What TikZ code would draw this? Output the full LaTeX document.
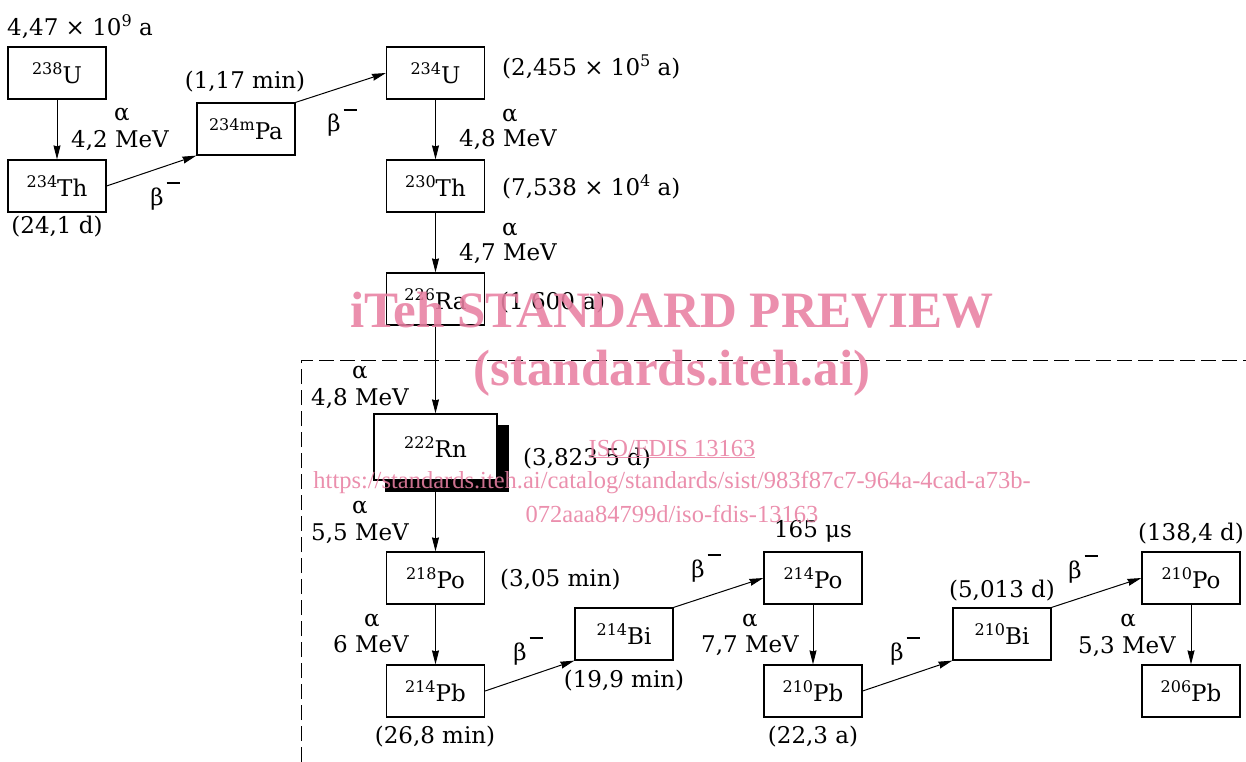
\documentclass[tikz,border=0pt]{standalone}
\usepackage{fontspec}
\setmainfont{DejaVu Serif}
\newfontfamily\wmfont{Liberation Serif}
\usetikzlibrary{arrows.meta}
\definecolor{wm}{RGB}{232,128,162}
\newcommand\sups[1]{\raisebox{9pt}{\fontsize{16}{16}\selectfont #1}}
\newcommand\nuc[2]{\sups{#1}#2}
\newcommand\betam{β\kern3pt\rule[21pt]{13pt}{1.8pt}}
\begin{document}
\begin{tikzpicture}[x=1pt,y=-1pt,
  every node/.style={font=\fontsize{23}{27}\selectfont},
  nbox/.style={draw, line width=1.2pt, minimum width=98pt, minimum height=52pt, inner sep=0pt, fill=white},
  lbl/.style={inner sep=0pt, anchor=base},
  lblw/.style={inner sep=0pt, anchor=base west},
  dec/.style={-{Stealth[length=14pt,width=7pt,inset=1pt]}, line width=1pt},
  wmbig/.style={inner sep=0pt, anchor=base, text=wm, opacity=0.88, font=\wmfont\bfseries\fontsize{51}{55}\selectfont},
  wmsmall/.style={inner sep=0pt, anchor=base, text=wm, opacity=0.88, font=\wmfont\fontsize{24.5}{28}\selectfont}
]
\useasboundingbox (0,0) rectangle (1246,762);

% dashed enclosure
\draw[dash pattern=on 15pt off 6pt, line width=1pt] (301,762) -- (301,360) -- (1246,360);

% shadow of Rn box
\fill[black] (385,425) rectangle (509,492);

% nuclide boxes
\node[nbox] (U238) at (57,73) {\nuc{238}{U}};
\node[nbox] (Th234) at (57,186) {\nuc{234}{Th}};
\node[nbox] (Pa234) at (246,129) {\nuc{234m}{Pa}};
\node[nbox] (U234) at (435.5,73) {\nuc{234}{U}};
\node[nbox] (Th230) at (435.5,186) {\nuc{230}{Th}};
\node[nbox] (Ra226) at (435.5,299) {\nuc{226}{Ra}};
\node[nbox, minimum width=123pt, minimum height=66pt] (Rn222) at (435.5,447) {\nuc{222}{Rn}};
\node[nbox] (Po218) at (435.5,578) {\nuc{218}{Po}};
\node[nbox] (Pb214) at (435.5,691) {\nuc{214}{Pb}};
\node[nbox] (Bi214) at (624,634) {\nuc{214}{Bi}};
\node[nbox] (Po214) at (813,578) {\nuc{214}{Po}};
\node[nbox] (Pb210) at (813,691) {\nuc{210}{Pb}};
\node[nbox] (Bi210) at (1002,634) {\nuc{210}{Bi}};
\node[nbox] (Po210) at (1191,578) {\nuc{210}{Po}};
\node[nbox] (Pb206) at (1191,691) {\nuc{206}{Pb}};

% decays
\draw[dec] (U238.south) -- (Th234.north);
\draw[dec] (Th234.east) -- (Pa234.south west);
\draw[dec] (Pa234.north east) -- (U234.west);
\draw[dec] (U234.south) -- (Th230.north);
\draw[dec] (Th230.south) -- (Ra226.north);
\draw[dec] (Ra226.south) -- (Rn222.north);
\draw[dec] (Rn222.south) -- (Po218.north);
\draw[dec] (Po218.south) -- (Pb214.north);
\draw[dec] (Pb214.east) -- (Bi214.south west);
\draw[dec] (Bi214.north east) -- (Po214.west);
\draw[dec] (Po214.south) -- (Pb210.north);
\draw[dec] (Pb210.east) -- (Bi210.south west);
\draw[dec] (Bi210.north east) -- (Po210.west);
\draw[dec] (Po210.south) -- (Pb206.north);

% half-lives
\node[lbl] (hU238) at (80,36) {4,47 × 10\sups{9} a};
\node[lbl] (hTh234) at (57,233) {(24,1 d)};
\node[lbl] (hPa234) at (245,89) {(1,17 min)};
\node[lblw] (hU234) at (502,76) {(2,455 × 10\sups{5} a)};
\node[lblw] (hTh230) at (502,195) {(7,538 × 10\sups{4} a)};
\node[lblw] (hRa226) at (500,309) {(1 600 a)};
\node[lblw] (hRn222) at (523,465) {(3,823 5 d)};
\node[lblw] (hPo218) at (500,586) {(3,05 min)};
\node[lbl] (hPb214) at (435,743) {(26,8 min)};
\node[lbl] (hBi214) at (624,687) {(19,9 min)};
\node[lbl] (hPo214) at (813,537) {165 μs};
\node[lbl] (hPb210) at (813,743) {(22,3 a)};
\node[lbl] (hBi210) at (1002,597) {(5,013 d)};
\node[lbl] (hPo210) at (1191,540) {(138,4 d)};

% decay labels
\node[lbl] (a1) at (122,121) {α};
\node[lbl] (e1) at (120,148) {4,2 MeV};
\node[lbl] (b1) at (165,205) {\betam};
\node[lbl] (b2) at (342,132) {\betam};
\node[lbl] (a2) at (510,122) {α};
\node[lbl] (e2) at (508,147) {4,8 MeV};
\node[lbl] (a3) at (510,235) {α};
\node[lbl] (e3) at (508,260) {4,7 MeV};
\node[lbl] (a4) at (360,378) {α};
\node[lbl] (e4) at (360,405) {4,8 MeV};
\node[lbl] (a5) at (360,513) {α};
\node[lbl] (e5) at (360,540) {5,5 MeV};
\node[lbl] (a6) at (372,626) {α};
\node[lbl] (e6) at (371,652) {6 MeV};
\node[lbl] (b3) at (528,660) {\betam};
\node[lbl] (b4) at (706,577) {\betam};
\node[lbl] (a7) at (750,626) {α};
\node[lbl] (e7) at (750,652) {7,7 MeV};
\node[lbl] (b5) at (905,660) {\betam};
\node[lbl] (b6) at (1083,578) {\betam};
\node[lbl] (a8) at (1128,626) {α};
\node[lbl] (e8) at (1127,653) {5,3 MeV};

% watermark
\node[wmbig] (w1) at (672,327) {iTeh STANDARD PREVIEW};
\node[wmbig] (w2) at (672,385) {(standards.iteh.ai)};
\node[wmsmall] (w3) at (672,456) {\underline{ISO/FDIS 13163}};
\node[wmsmall] (w4) at (672,488) {https://standards.iteh.ai/catalog/standards/sist/983f87c7-964a-4cad-a73b-};
\node[wmsmall] (w5) at (672,522) {072aaa84799d/iso-fdis-13163};
\end{tikzpicture}
\end{document}
